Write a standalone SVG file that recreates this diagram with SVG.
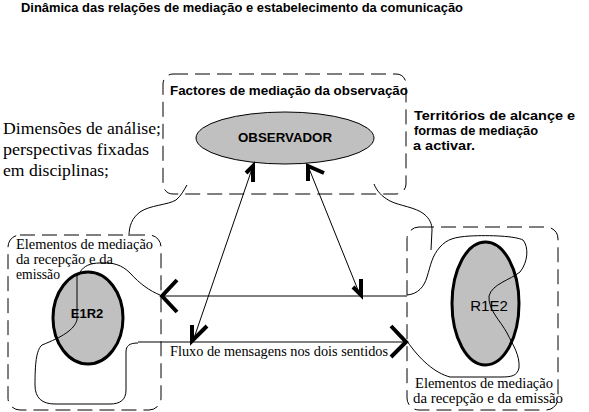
<svg xmlns="http://www.w3.org/2000/svg" width="589" height="412" viewBox="0 0 589 412">
<style>
.sb{font-family:"Liberation Sans",Arial,sans-serif;font-weight:bold;font-size:12px;fill:#000}
.sr{font-family:"Liberation Serif","Times New Roman",serif;font-size:14px;fill:#000}
.big{font-family:"Liberation Serif","Times New Roman",serif;font-size:16px;fill:#000}
.box{fill:none;stroke:#000;stroke-width:1;stroke-dasharray:15 7}
.thin{fill:none;stroke:#000;stroke-width:1}
.head{fill:none;stroke:#000;stroke-width:4;stroke-linecap:butt;stroke-linejoin:miter}
.el{fill:#c0c0c0;stroke:#000;stroke-width:3}
</style>
<rect width="589" height="412" fill="#fff"/>
<text class="sb" x="21" y="12" textLength="442" lengthAdjust="spacingAndGlyphs">Dinâmica das relações de mediação e estabelecimento da comunicação</text>
<g id="left-notes">
<text class="big" x="3" y="134" textLength="158" lengthAdjust="spacingAndGlyphs">Dimensões de análise;</text>
<text class="big" x="3" y="155" textLength="146" lengthAdjust="spacingAndGlyphs">perspectivas fixadas</text>
<text class="big" x="3" y="176" textLength="106" lengthAdjust="spacingAndGlyphs">em disciplinas;</text>
</g>
<g id="right-notes">
<text class="sb" x="414" y="120" textLength="161" lengthAdjust="spacingAndGlyphs">Territórios de alcançe e</text>
<text class="sb" x="414" y="135" textLength="124" lengthAdjust="spacingAndGlyphs">formas de mediação</text>
<text class="sb" x="413" y="150" textLength="62" lengthAdjust="spacingAndGlyphs">a activar.</text>
</g>
<g id="observacao">
<rect class="box" x="163" y="74" width="243" height="120" rx="10" ry="10"/>
<text class="sb" x="170" y="95" textLength="238" lengthAdjust="spacingAndGlyphs">Factores de mediação da observação</text>
<ellipse cx="285" cy="138" rx="89" ry="26" fill="#c0c0c0" stroke="#000" stroke-width="1"/>
<text class="sb" x="238" y="142" font-size="13" textLength="94" lengthAdjust="spacingAndGlyphs">OBSERVADOR</text>
</g>
<g id="e1r2">
<rect class="box" x="8" y="235" width="153" height="175" rx="12" ry="12"/>
<text class="sr" x="16" y="249" textLength="137" lengthAdjust="spacingAndGlyphs">Elementos de mediação</text>
<text class="sr" x="16" y="264" textLength="97" lengthAdjust="spacingAndGlyphs">da recepção e da</text>
<text class="sr" x="16" y="279" textLength="44" lengthAdjust="spacingAndGlyphs">emissão</text>
<ellipse class="el" cx="88" cy="318" rx="35" ry="46"/>
<text x="87" y="318" text-anchor="middle" font-family="Liberation Sans, Arial, sans-serif" font-weight="bold" font-size="13">E1R2</text>
</g>
<g id="r1e2">
<rect class="box" x="407" y="227" width="151" height="183" rx="12" ry="12"/>
<ellipse class="el" cx="485.5" cy="303.5" rx="33.5" ry="61.5"/>
<text x="489" y="311" text-anchor="middle" font-family="Liberation Sans, Arial, sans-serif" font-size="15">R1E2</text>
<text class="sr" x="415" y="388" textLength="138" lengthAdjust="spacingAndGlyphs">Elementos de mediação</text>
<text class="sr" x="413" y="403" textLength="150" lengthAdjust="spacingAndGlyphs">da recepção e da emissão</text>
</g>
<g id="connectors">
<path class="thin" d="M187,185 C184,190 181,196 176,200 C168,205 150,205 140,212 C132,218 129,226 129,236"/>
<path class="thin" d="M160,295 C150,291 140,284 130,273 C122,265 113,262 100,263 C90,263 84,266 80,272 L77,275 L77,320 C74,330 62,337 42,345 C36,350 35,365 35,385 C35,398 42,404 55,404 L110,404 C120,404 126,400 126,390 L126,352 C126,346 129,343 138,343"/>
<path class="thin" d="M374,184 C377,191 381,196 390,201 C400,206 415,207 424,214 C430,219 432,224 432,230 L431,250"/>
<path class="thin" d="M407,295 C418,294 424,287 427,277 C431,264 432,256 440,247 C447,239 455,237 470,236 C490,235 515,236 523,240 C529,247 528,262 520,272 C510,280 492,284 489,296 C488,310 500,320 507,333 C513,345 520,355 519,368 C517,376 512,377 500,377 L450,377 C435,373 420,360 407,341"/>
<line class="thin" x1="161" y1="296" x2="407" y2="296"/>
<line class="thin" x1="138" y1="342" x2="407" y2="342"/>
<line class="thin" x1="253" y1="166" x2="193" y2="341"/>
<line class="thin" x1="308" y1="166" x2="360" y2="295"/>
<path class="head" d="M177,280 L162,296 L177,312"/>
<path class="head" d="M391,326 L406,342 L391,357"/>
<path class="head" d="M253,182 L253,166 L246,173"/>
<path class="head" d="M308,181 L308,166 L324,173"/>
<path class="head" d="M192,325 L192,341 L207,326"/>
<path class="head" d="M361,279 L361,295 L353,287"/>
</g>
<text class="sr" x="170" y="356" textLength="218" lengthAdjust="spacingAndGlyphs">Fluxo de mensagens nos dois sentidos</text>
</svg>
